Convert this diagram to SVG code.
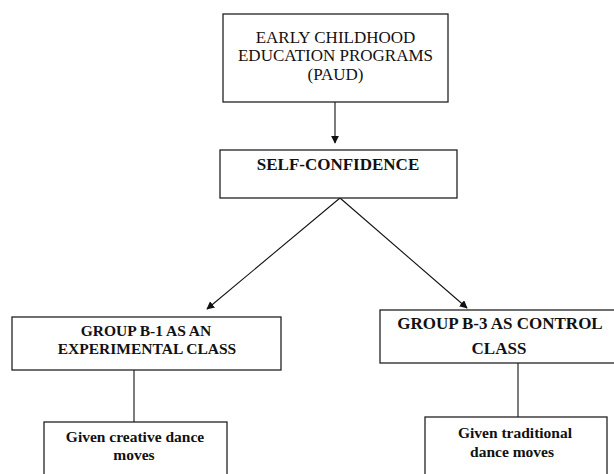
<svg xmlns="http://www.w3.org/2000/svg" width="614" height="474" viewBox="0 0 614 474">
<style>
.box{fill:#fff;stroke:#222;stroke-width:1.3}
.t{fill:#111;text-anchor:middle;font-family:"Liberation Serif","DejaVu Serif",serif}
.r{font-size:17px}
.b{font-size:17px;font-weight:bold}
.b2{font-size:15.5px;font-weight:bold}
.s{font-size:15.5px;font-weight:bold}
.c{stroke:#111;stroke-width:1.1;fill:none}
</style>
<defs>
<marker id="ah" viewBox="0 0 10 10" refX="9" refY="5" markerWidth="8" markerHeight="8" markerUnits="userSpaceOnUse" orient="auto">
<path d="M0,0 L10,5 L0,10 z" fill="#111"/>
</marker>
</defs>
<rect width="614" height="474" fill="#fff"/>
<g id="connectors">
<line class="c" x1="335" y1="102" x2="335" y2="143" marker-end="url(#ah)"/>
<line class="c" x1="340" y1="198" x2="207" y2="309" marker-end="url(#ah)"/>
<line class="c" x1="340" y1="198" x2="467" y2="308" marker-end="url(#ah)"/>
<line class="c" x1="134" y1="370" x2="134" y2="422"/>
<line class="c" x1="518" y1="363" x2="518" y2="417"/>
</g>
<g id="paud">
<rect class="box" x="223" y="14" width="225" height="88"/>
<text class="t r" x="335.5" y="43">EARLY CHILDHOOD</text>
<text class="t r" x="335.5" y="61">EDUCATION PROGRAMS</text>
<text class="t r" x="335.5" y="80">(PAUD)</text>
</g>
<g id="selfconfidence">
<rect class="box" x="220" y="150" width="237" height="48"/>
<text class="t b" x="338" y="170">SELF-CONFIDENCE</text>
</g>
<g id="groupb1">
<rect class="box" x="12" y="317" width="269" height="53"/>
<text class="t b2" x="146" y="336">GROUP B-1 AS AN</text>
<text class="t b2" x="147" y="353.5">EXPERIMENTAL CLASS</text>
</g>
<g id="groupb3">
<rect class="box" x="380" y="310" width="240" height="53"/>
<text class="t b" x="500" y="329">GROUP B-3 AS CONTROL</text>
<text class="t b" x="499" y="354">CLASS</text>
</g>
<g id="creative">
<rect class="box" x="44" y="422" width="183" height="60"/>
<text class="t s" x="135" y="441.5">Given creative dance</text>
<text class="t s" x="134" y="460">moves</text>
</g>
<g id="traditional">
<rect class="box" x="425" y="417" width="182" height="65"/>
<text class="t s" x="515" y="438">Given traditional</text>
<text class="t s" x="512" y="456.5">dance moves</text>
</g>
</svg>
